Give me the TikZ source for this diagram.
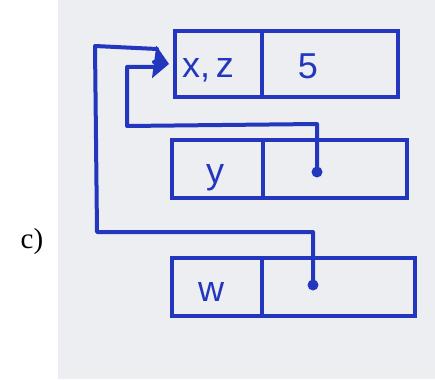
\documentclass[tikz,border=0pt]{standalone}
\usepackage{fontspec}
\setmainfont{Liberation Serif}
\newfontfamily\handfont{Liberation Sans}
\usetikzlibrary{arrows.meta,calc}
\definecolor{ink}{RGB}{35,55,190}
\definecolor{paper}{RGB}{236,238,241}
\begin{document}
\begin{tikzpicture}[x=1pt,y=-1pt,
  cell/.style={draw=ink,line width=4pt,inner sep=0pt,anchor=north west},
  celltext/.style={text=ink,font=\handfont\fontsize{36}{38}\selectfont,inner sep=0pt},
  ptr/.style={draw=ink,line width=4pt,line join=round,line cap=round},
  dotmark/.style={fill=ink}]
\useasboundingbox (0,0) rectangle (435,379);
\fill[paper] (58,0) rectangle (435,379);
% label
\node[font=\fontsize{29}{32}\selectfont,inner sep=0pt] (lab) at (32,242) {c)};
% cells
\node[cell,minimum width=87pt,minimum height=66pt] (x1) at (173,29) {};
\node[cell,minimum width=136pt,minimum height=66pt] (x2) at (260,29) {};
\node[cell,minimum width=91pt,minimum height=58pt] (y1) at (170,138) {};
\node[cell,minimum width=144pt,minimum height=58pt] (y2) at (261,138) {};
\node[cell,minimum width=90pt,minimum height=58pt] (w1) at (170,256) {};
\node[cell,minimum width=153pt,minimum height=58pt] (w2) at (260,256) {};
% texts
\node[celltext] (txz) at (208,70) {x,\,z};
\node[celltext] (t5) at (308,66) {5};
\node[celltext] (ty) at (215,178) {y};
\node[celltext] (tw) at (211,292) {w};
% pointer coordinates
\coordinate (ydot) at (317,172);
\coordinate (wdot) at (313,285);
\coordinate (yb1) at (317,124);
\coordinate (yb2) at (127,126);
\coordinate (yb3) at (127,67);
\coordinate (yend) at (157,67);
\coordinate (wb1) at (313,232);
\coordinate (wb2) at (97,232);
\coordinate (wb3) at (95,46);
\coordinate (wend) at (157,49);
\coordinate (tipbase) at (154,62);
% pointers
\draw[ptr] (ydot) -- (yb1) -- (yb2) -- (yb3) -- (yend);
\draw[ptr] (wdot) -- (wb1) -- (wb2) -- (wb3) -- (wend);
\draw[ptr,-{Triangle[length=15pt,width=32pt]}] (tipbase) -- ([xshift=-4pt]x1.west);
\fill[dotmark] (ydot) circle (5.5pt);
\fill[dotmark] (wdot) circle (5.5pt);
\end{tikzpicture}
\end{document}
